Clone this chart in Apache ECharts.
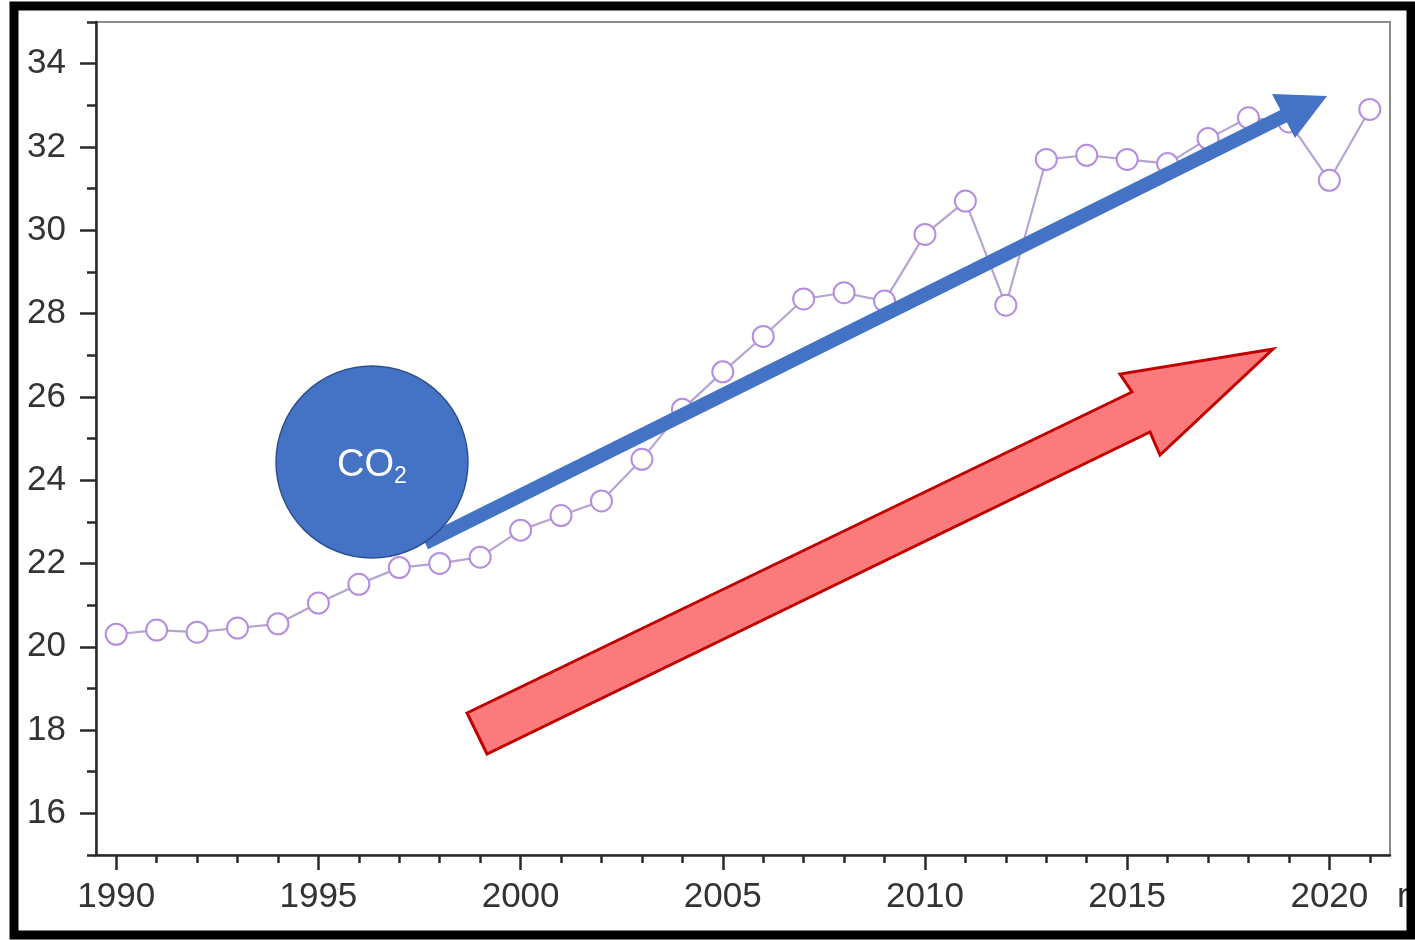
<!DOCTYPE html>
<html>
<head>
<meta charset="utf-8">
<script src="https://cdn.jsdelivr.net/npm/echarts@6/dist/echarts.min.js"></script>
<style>
html,body{margin:0;padding:0;background:#fff;}
#chart{width:1415px;height:940px;}
</style>
</head>
<body>
<div id="chart"></div>
<script>
// ---- data ----
var years = [1990,1991,1992,1993,1994,1995,1996,1997,1998,1999,2000,2001,2002,2003,2004,2005,2006,2007,2008,2009,2010,2011,2012,2013,2014,2015,2016,2017,2018,2019,2020,2021];
var values = [20.3,20.4,20.35,20.45,20.55,21.05,21.5,21.9,22.0,22.15,22.8,23.15,23.5,24.5,25.7,26.6,27.45,28.35,28.5,28.3,29.9,30.7,28.2,31.7,31.8,31.7,31.6,32.2,32.7,32.6,31.2,32.9];
var xTickLabels = [1990,1995,2000,2005,2010,2015,2020];
var xMinorTicks = [1990,1991,1992,1993,1994,1995,1996,1997,1998,1999,2000,2001,2002,2003,2004,2005,2006,2007,2008,2009,2010,2011,2012,2013,2014,2015,2016,2017,2018,2019,2020,2021];
var yTickLabels = [16,18,20,22,24,26,28,30,32,34];
var yMinorTicks = [15,17,19,21,23,25,27,29,31,33,35];
var xAxisName = 'năm';

var seriesData = years.map(function(y, i){ return [y, values[i]]; });

var chart = echarts.init(document.getElementById('chart'), null, {renderer:'canvas'});
var FONT = 'Liberation Sans, Arial, sans-serif';
var labelColor = '#333';

var option = {
  backgroundColor: '#ffffff',
  animation: false,
  grid: {left: 96, right: 25, top: 22, bottom: 85, show: true, borderColor: '#8c8c8c', borderWidth: 2, backgroundColor: 'transparent', containLabel: false, outerBoundsMode: 'none'},
  xAxis: [{
    type: 'value', min: 1989.5, max: 2021.5, position: 'bottom',
    name: xAxisName, nameLocation: 'end', nameGap: 7,
    nameTextStyle: {fontFamily: FONT, fontSize: 35, color: labelColor, align: 'left', verticalAlign: 'top', padding: [25,0,0,0]},
    axisLine: {show: true, lineStyle: {color: '#2a2a2a', width: 2.5}},
    axisTick: {show: true, length: 15, customValues: xTickLabels, lineStyle: {color: '#2a2a2a', width: 2.5}},
    axisLabel: {show: true, customValues: xTickLabels, margin: 25, fontFamily: FONT, fontSize: 35, color: labelColor, formatter: function(v){return String(v);}},
    splitLine: {show: false}
  }, {
    type: 'value', min: 1989.5, max: 2021.5, position: 'bottom',
    axisLine: {show: false},
    axisTick: {show: true, length: 8, customValues: xMinorTicks, lineStyle: {color: '#2a2a2a', width: 2.5}},
    axisLabel: {show: false},
    splitLine: {show: false}
  }],
  yAxis: [{
    type: 'value', min: 15, max: 35, position: 'left',
    axisLine: {show: true, lineStyle: {color: '#2a2a2a', width: 2.5}},
    axisTick: {show: true, length: 16, customValues: yTickLabels, lineStyle: {color: '#2a2a2a', width: 2.5}},
    axisLabel: {show: true, customValues: yTickLabels, margin: 30, fontFamily: FONT, fontSize: 35, color: labelColor},
    splitLine: {show: false}
  }, {
    type: 'value', min: 15, max: 35, position: 'left',
    axisLine: {show: false},
    axisTick: {show: true, length: 9, customValues: yMinorTicks, lineStyle: {color: '#2a2a2a', width: 2.5}},
    axisLabel: {show: false},
    splitLine: {show: false}
  }],
  series: [{
    type: 'line', xAxisIndex: 0, yAxisIndex: 0,
    data: seriesData,
    symbol: 'emptyCircle', symbolSize: 21,
    lineStyle: {color: '#b7a3d0', width: 2.2},
    itemStyle: {color: '#b48de0', borderColor: '#b48de0', borderWidth: 3.2},
    z: 2
  }],
  graphic: [
    {type: 'polygon', z: 50,
      shape: {points: [[467,713],[1132,392],[1120,374],[1273,349],[1160,455],[1150,432],[487,754]]},
      style: {fill: '#fb7a7c', stroke: '#c00000', lineWidth: 3}},
    {type: 'line', z: 50,
      shape: {x1: 425, y1: 543, x2: 1286, y2: 115},
      style: {stroke: '#4472c4', lineWidth: 14}},
    {type: 'polygon', z: 51,
      shape: {points: [[1272,94],[1327,96],[1295,138]]},
      style: {fill: '#4472c4'}},
    {type: 'circle', z: 52,
      shape: {cx: 372, cy: 462, r: 96},
      style: {fill: '#4472c4', stroke: '#2f528f', lineWidth: 1.5}},
    {type: 'text', z: 53, x: 372, y: 466,
      style: {text: '{a|CO}{b|2}', align: 'center', verticalAlign: 'middle', fill: '#ffffff',
        rich: {
          a: {fontFamily: FONT, fontSize: 38, fill: '#ffffff', lineHeight: 44, verticalAlign: 'middle'},
          b: {fontFamily: FONT, fontSize: 23, fill: '#ffffff', lineHeight: 24, verticalAlign: 'bottom'}
        }}},
    {type: 'rect', z: 100,
      shape: {x: 14, y: 6, width: 1397, height: 929},
      style: {fill: 'none', stroke: '#000000', lineWidth: 9}}
  ]
};
chart.setOption(option);
</script>
</body>
</html>
